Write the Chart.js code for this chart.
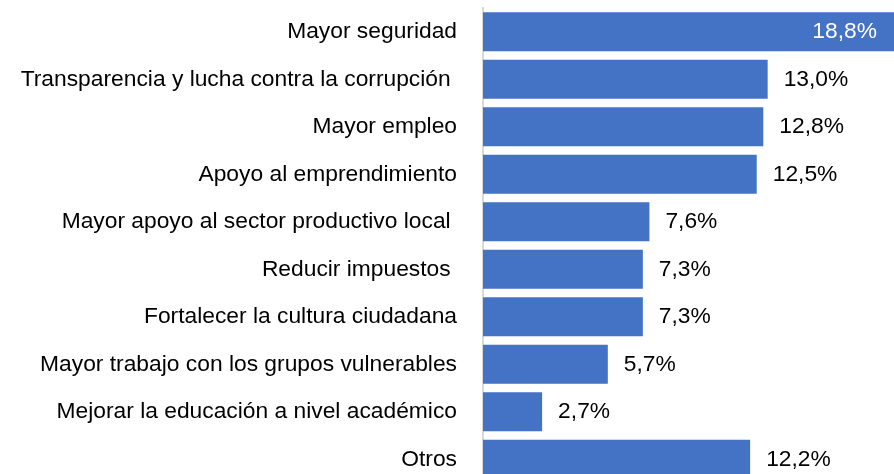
<!DOCTYPE html>
<html>
<head>
<meta charset="utf-8">
<script src="https://cdn.jsdelivr.net/npm/chart.js@4"></script>
<style>
  html, body { margin: 0; padding: 0; background: #fff; overflow: hidden; }
  #wrap { position: relative; width: 894px; height: 483px; }
</style>
</head>
<body>
<div id="wrap"><canvas id="chart"></canvas></div>
<script>
const categorias = [
  'Mayor seguridad',
  'Transparencia y lucha contra la corrupción ',
  'Mayor empleo',
  'Apoyo al emprendimiento',
  'Mayor apoyo al sector productivo local ',
  'Reducir impuestos ',
  'Fortalecer la cultura ciudadana',
  'Mayor trabajo con los grupos vulnerables',
  'Mejorar la educación a nivel académico',
  'Otros'
];
const porcentajes = [18.8, 13.0, 12.8, 12.5, 7.6, 7.3, 7.3, 5.7, 2.7, 12.2];

const fuente = '"Liberation Sans", Arial, sans-serif';
const tamano = 22.8;

// etiquetas de valor: dentro de la barra si no caben a la derecha
const etiquetas = {
  id: 'etiquetas',
  afterDatasetsDraw(chart) {
    const ctx = chart.ctx;
    const meta = chart.getDatasetMeta(0);
    ctx.save();
    ctx.font = tamano + 'px ' + fuente;
    ctx.textBaseline = 'middle';
    meta.data.forEach((bar, i) => {
      const txt = porcentajes[i].toFixed(1).replace('.', ',') + '%';
      const fin = Math.min(bar.x, chart.chartArea.right);
      if (fin + 80 > chart.chartArea.right) {
        ctx.fillStyle = '#ffffff';
        ctx.textAlign = 'right';
        ctx.fillText(txt, chart.chartArea.right - 17, bar.y);
      } else {
        ctx.fillStyle = '#000000';
        ctx.textAlign = 'left';
        ctx.fillText(txt, fin + 16, bar.y);
      }
    });
    ctx.restore();
  }
};

new Chart(document.getElementById('chart'), {
  type: 'bar',
  data: {
    labels: categorias,
    datasets: [{
      data: porcentajes,
      backgroundColor: '#4472C4',
      borderWidth: 0,
      barPercentage: 0.82,
      categoryPercentage: 1
    }]
  },
  options: {
    indexAxis: 'y',
    responsive: true,
    maintainAspectRatio: false,
    animation: false,
    layout: { padding: { top: 8, bottom: 0, left: 0, right: 0 } },
    plugins: {
      legend: { display: false },
      tooltip: { enabled: false }
    },
    scales: {
      x: {
        display: false,
        min: 0,
        max: 18.77
      },
      y: {
        grid: { display: false, drawTicks: false },
        border: { display: true, color: '#d9d9d9', width: 2 },
        ticks: {
          color: '#000000',
          padding: 26,
          font: { family: fuente, size: tamano }
        },
        afterFit(scale) {
          scale.width = 483;
          scale.paddingTop = 0;
          scale.paddingBottom = 0;
        }
      }
    }
  },
  plugins: [etiquetas]
});
</script>
</body>
</html>
